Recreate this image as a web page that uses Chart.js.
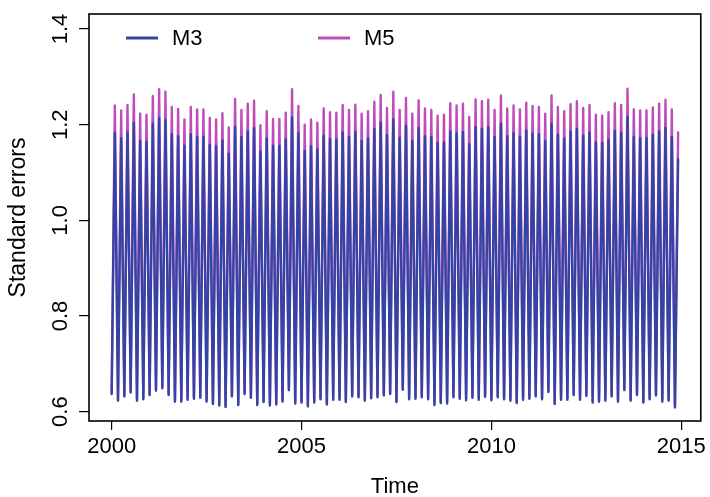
<!DOCTYPE html>
<html>
<head>
<meta charset="utf-8">
<script src="https://cdn.jsdelivr.net/npm/chart.js@4/dist/chart.umd.min.js"></script>
<style>
  body { margin: 0; background: #fff; }
  canvas { display: block; }
</style>
</head>
<body>
<canvas id="errChart" width="710" height="497"></canvas>
<script>
// monthly series starting Jan 2000, troughs on even months, peaks on odd months
const startYear = 2000
const monthsPerYear = 12

const m3Low = [0.637,0.623,0.632,0.640,0.623,0.626,0.635,0.644,0.649,0.635,0.621,0.621,0.625,0.627,0.629,0.621,0.616,0.613,0.610,0.632,0.614,0.637,0.629,0.614,0.620,0.613,0.615,0.621,0.645,0.617,
  0.619,0.611,0.619,0.626,0.615,0.625,0.625,0.620,0.632,0.630,0.623,0.628,0.630,0.634,0.637,0.620,0.646,0.626,0.627,0.630,0.626,0.614,0.618,0.617,0.630,0.627,0.624,0.629,0.625,0.631,
  0.624,0.630,0.626,0.623,0.618,0.625,0.627,0.632,0.626,0.641,0.616,0.625,0.625,0.635,0.625,0.633,0.619,0.621,0.623,0.632,0.621,0.645,0.623,0.635,0.619,0.626,0.634,0.621,0.623,0.609]
const m3High = [1.183,1.172,1.184,1.204,1.166,1.164,1.202,1.214,1.210,1.180,1.176,1.156,1.180,1.175,1.175,1.158,1.155,1.167,1.139,1.195,1.174,1.186,
  1.193,1.144,1.171,1.156,1.156,1.169,1.215,1.182,1.145,1.155,1.148,1.177,1.170,1.169,1.184,1.175,1.185,1.166,1.171,1.191,1.204,1.178,1.211,
  1.173,1.198,1.166,1.193,1.176,1.174,1.162,1.163,1.186,1.182,1.185,1.159,1.195,
  1.191,1.194,1.174,1.202,1.176,1.182,1.175,1.188,1.181,1.180,1.166,1.202,1.179,1.171,1.185,1.191,1.177,1.183,1.163,1.162,1.168,1.187,1.183,1.216,1.175,1.172,1.172,1.179,1.186,1.193,1.174,1.128]
const m5Low = [0.640,0.626,0.635,0.643,0.626,0.629,0.638,0.647,0.652,0.638,0.624,0.624,0.628,0.630,0.632,0.624,0.619,0.616,0.613,0.635,0.617,0.640,0.632,0.617,0.623,0.616,0.618,0.624,0.648,0.620,
  0.622,0.614,0.622,0.629,0.618,0.628,0.628,0.623,0.635,0.633,0.626,0.631,0.633,0.637,0.640,0.623,0.649,0.629,0.630,0.633,0.629,0.617,0.621,0.620,0.633,0.630,0.627,0.632,0.628,0.634,
  0.627,0.633,0.629,0.626,0.621,0.628,0.630,0.635,0.629,0.644,0.619,0.628,0.628,0.638,0.628,0.636,0.622,0.624,0.626,0.635,0.624,0.648,0.626,0.638,0.622,0.629,0.637,0.624,0.626,0.612]
const m5High = [1.240,1.230,1.241,1.263,1.223,1.221,1.260,1.274,1.269,1.237,1.233,1.211,1.237,1.232,1.232,1.214,1.211,1.224,1.194,1.254,1.231,1.244,
  1.250,1.199,1.228,1.212,1.212,1.225,1.274,1.239,1.200,1.211,1.204,1.234,1.226,1.225,1.241,1.231,1.242,1.223,1.228,1.248,1.262,1.235,1.269,
  1.231,1.256,1.223,1.251,1.234,1.231,1.219,1.221,1.245,1.240,1.244,1.216,1.253,
  1.249,1.252,1.231,1.261,1.234,1.240,1.232,1.246,1.239,1.237,1.223,1.261,1.237,1.228,1.243,1.249,1.235,1.241,1.221,1.219,1.226,1.245,1.241,1.275,1.232,1.230,1.230,1.236,1.244,1.252,1.232,1.184]

const seriesNames = ['M3', 'M5']
const seriesColors = ['#3444a4', '#c04cba']
const xTicks = [2000, 2005, 2010, 2015]
const yTicks = [0.6, 0.8, 1.0, 1.2, 1.4]
const yTickLabels = ['0.6', '0.8', '1.0', '1.2', '1.4']

function toPoints(low, high) {
  let pts = []
  for (let i = 0; i < low.length; i++) {
    pts.push({ x: startYear + (2 * i) / monthsPerYear, y: low[i] })
    pts.push({ x: startYear + (2 * i + 1) / monthsPerYear, y: high[i] })
  }
  return pts
}

const FONT = "'Liberation Sans', Arial, sans-serif"

// box, rotated y labels and legend like base R graphics
const rStyle = {
  id: 'rStyle',
  afterDraw(chart) {
    const ctx = chart.ctx
    const a = chart.chartArea
    const ys = chart.scales.y
    ctx.save()
    ctx.strokeStyle = '#000'
    ctx.lineWidth = 1.6
    ctx.strokeRect(a.left, a.top, a.right - a.left, a.bottom - a.top)

    ctx.fillStyle = '#000'
    ctx.font = '22px ' + FONT
    ctx.textAlign = 'center'
    ctx.textBaseline = 'alphabetic'
    yTicks.forEach((v, i) => {
      ctx.save()
      ctx.translate(67, ys.getPixelForValue(v))
      ctx.rotate(-Math.PI / 2)
      ctx.fillText(yTickLabels[i], 0, 0)
      ctx.restore()
    })

    // legend
    const lx = [126, 318]
    ctx.font = '22px ' + FONT
    ctx.textAlign = 'left'
    ctx.textBaseline = 'middle'
    seriesNames.forEach((name, i) => {
      ctx.strokeStyle = seriesColors[i]
      ctx.lineWidth = 3
      ctx.beginPath()
      ctx.moveTo(lx[i], 38)
      ctx.lineTo(lx[i] + 32, 38)
      ctx.stroke()
      ctx.fillText(name, lx[i] + 46, 39)
    })
    ctx.restore()
  }
}

const ctx = document.getElementById('errChart').getContext('2d')
const errChart = new Chart(ctx, {
  type: 'line',
  data: {
    datasets: [{
      label: seriesNames[0],
      data: toPoints(m3Low, m3High),
      borderColor: seriesColors[0],
      borderWidth: 2.4,
      pointRadius: 0,
      tension: 0,
      borderJoinStyle: 'round',
      borderCapStyle: 'round'
    }, {
      label: seriesNames[1],
      data: toPoints(m5Low, m5High),
      borderColor: seriesColors[1],
      borderWidth: 2.4,
      pointRadius: 0,
      tension: 0,
      borderJoinStyle: 'round',
      borderCapStyle: 'round'
    }]
  },
  options: {
    responsive: false,
    animation: false,
    devicePixelRatio: 1,
    layout: { padding: { top: 14, right: 7.5, left: 0, bottom: 0 } },
    plugins: { legend: { display: false }, tooltip: { enabled: false } },
    scales: {
      x: {
        type: 'linear',
        min: 1999.403,
        max: 2015.513,
        afterBuildTicks: (scale) => { scale.ticks = xTicks.map(v => ({ value: v })) },
        afterFit: (scale) => { scale.height = 76 },
        grid: { display: true, drawOnChartArea: false, drawTicks: true, tickLength: 9, color: '#000', lineWidth: 1.2 },
        border: { display: false },
        ticks: { color: '#000', font: { family: FONT, size: 22 }, padding: 4, maxRotation: 0, callback: v => String(v) },
        title: { display: true, text: 'Time', color: '#000', font: { family: FONT, size: 22, lineHeight: 1 }, padding: { top: 0, bottom: -1 } }
      },
      y: {
        type: 'linear',
        min: 0.5805,
        max: 1.4314,
        afterBuildTicks: (scale) => { scale.ticks = yTicks.map(v => ({ value: v })) },
        afterFit: (scale) => { scale.width = 89 },
        grid: { display: true, drawOnChartArea: false, drawTicks: true, tickLength: 10, color: '#000', lineWidth: 1.2 },
        border: { display: false },
        ticks: { display: false },
        title: { display: true, text: 'Standard errors', color: '#000', font: { family: FONT, size: 23, lineHeight: 1 }, padding: { top: 7, bottom: 0 } }
      }
    }
  },
  plugins: [rStyle]
})
</script>
</body>
</html>
